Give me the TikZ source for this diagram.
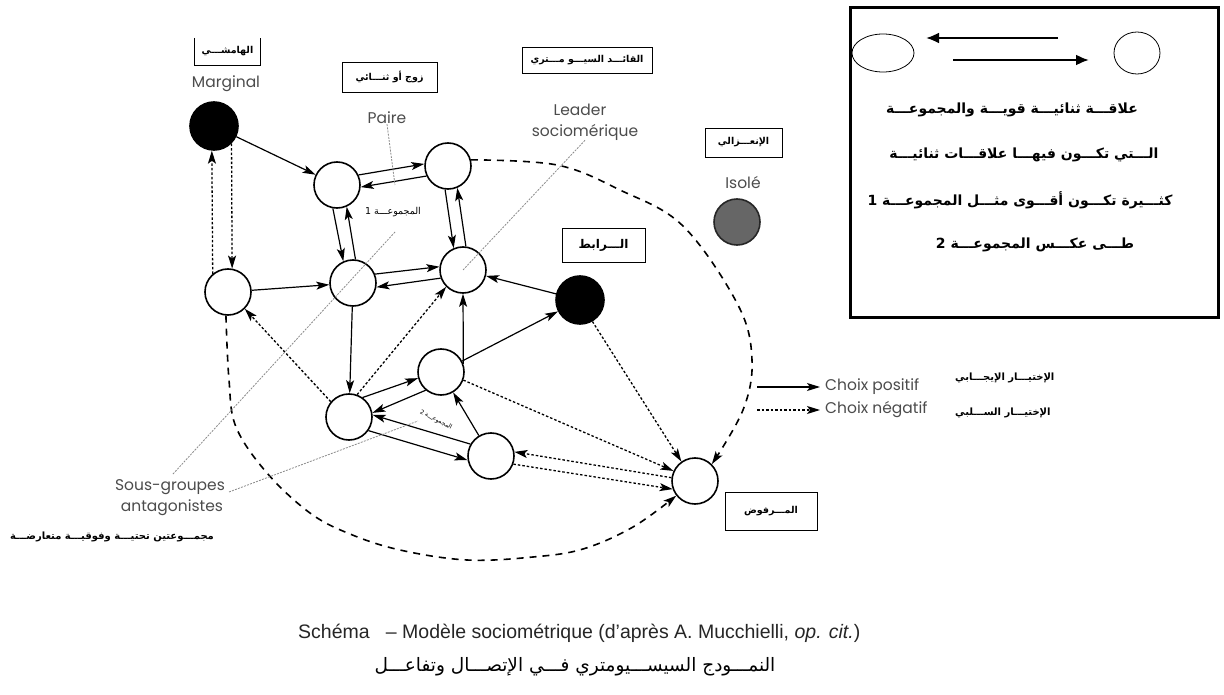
\documentclass[tikz,border=0pt]{standalone}
\usepackage{fontspec}
\setmainfont{Liberation Sans}
\newfontfamily\arabicfont[Script=Arabic]{DejaVu Sans}
\newfontfamily\geofont{Poppins}
\TeXXeTstate=1
\usetikzlibrary{arrows.meta,shapes.geometric}
\newcommand\artxt[1]{\arabicfont\beginR #1\endR}
\begin{document}
\begin{tikzpicture}[x=1pt,y=-1pt,
  person/.style={circle,draw=black,line width=1.6pt,minimum size=46pt,inner sep=0pt,fill=white},
  blackp/.style={person,fill=black,minimum size=48pt},
  isol/.style={person,fill=black!60,draw=black!85},
  poschoice/.style={line width=1.2pt,-{Stealth[length=13pt,width=8pt,inset=3pt]}},
  negchoice/.style={line width=1.3pt,dash pattern=on 2.5pt off 2pt,-{Stealth[length=13pt,width=8pt,inset=3pt]}},
  bigneg/.style={line width=1.6pt,dash pattern=on 7pt off 6pt,-{Stealth[length=13pt,width=8pt,inset=3pt]}},
  leadline/.style={black!45,line width=0.8pt,dash pattern=on 2pt off 1.2pt},
  arbox/.style={draw,line width=0.9pt,inner sep=0pt,font=\arabicfont\bfseries\fontsize{9.5}{11}\selectfont},
  lat/.style={font=\geofont\fontsize{15.5}{18}\selectfont,text=black!70,inner sep=0pt},
  arsmall/.style={font=\arabicfont\bfseries\fontsize{10}{12}\selectfont,inner sep=0pt},
  legtxt/.style={font=\arabicfont\bfseries\fontsize{14}{16}\selectfont,inner sep=0pt}
]
\useasboundingbox (0,0) rectangle (1224,695);
\fill[white] (0,0) rectangle (1224,695);

% persons
\node[blackp] (M) at (214,126) {};
\node[person] (A) at (337,185) {};
\node[person] (B) at (448,166) {};
\node[person] (C) at (228,292) {};
\node[person] (D) at (353,283) {};
\node[person] (E) at (463,270) {};
\node[blackp] (F) at (580,300) {};
\node[person] (G) at (441,372) {};
\node[person] (H) at (349,417) {};
\node[person] (I) at (491,456) {};
\node[person] (J) at (695,481) {};
\node[isol] (S) at (737,222) {};

% big dashed curves (negative choices to the rejected one)
\draw[bigneg] plot[smooth,tension=0.6] coordinates {(B.15) (557,165) (620,190) (683,226) (738,305) (752,360) (743,410) (J.45)};
\draw[bigneg] plot[smooth,tension=0.6] coordinates {(C.-95) (229,380) (236,427) (267,473) (310,513) (350,534) (400,550) (467,560) (533,557) (583,549) (633,527) (J.218)};

% positive choices
\draw[poschoice] (M) -- (A);
\draw[poschoice] (A.25) -- (B.175);
\draw[poschoice] (B.205) -- (A.355);
\draw[poschoice] (A.-100) -- (D.114);
\draw[poschoice] (D.84) -- (A.-66);
\draw[poschoice] (B.-97) -- (E.113);
\draw[poschoice] (E.83) -- (B.-67);
\draw[poschoice] (C) -- (D);
\draw[poschoice] (D.22) -- (E.172);
\draw[poschoice] (E.200) -- (D.350);
\draw[poschoice] (F) -- (E);
\draw[poschoice] (G) -- (F);
\draw[poschoice] (D) -- (H);
\draw[poschoice] (G.20) -- (E.south);
\draw[poschoice] (H.55) -- (G.195);
\draw[poschoice] (G.230) -- (H.10);
\draw[poschoice] (I.150) -- (H.5);
\draw[poschoice] (H.-35) -- (I.190);
\draw[poschoice] (I) -- (G);

% negative choices
\draw[negchoice] (H.70) -- (E.225);
\draw[negchoice] (H.140) -- (C.-45);
\draw[negchoice] (G.-20) -- (J.155);
\draw[negchoice] (F.-60) -- (J.125);
\draw[negchoice] (J.172) -- (I.10);
\draw[negchoice] (I.-20) -- (J.200);
\draw[negchoice] (C.130) -- (M.-95);
\draw[negchoice] (M.-45) -- (C.80);

% labels
\node[inner sep=0pt,minimum width=65pt,minimum height=27pt,font=\arabicfont\bfseries\fontsize{9.5}{11}\selectfont] (hb) at (227.5,51.5) {\artxt{الهامشـــي}};
\draw[line width=0.9pt] (hb.north west) -- (hb.south west) -- (hb.south east) -- (hb.north east);
\node[lat] (marg) at (226,84) {Marginal};
\node[arbox,minimum width=95pt,minimum height=30pt] (zb) at (389.5,77) {\artxt{زوج أو ثنـــائي}};
\node[lat] (paire) at (387,118) {Paire};
\node[arbox,minimum width=130pt,minimum height=26pt] (qb) at (587,60) {\artxt{القائـــد السيـــو مـــتري}};
\node[lat] (ld1) at (580,110) {Leader};
\node[lat] (ld2) at (585,132) {sociomérique};
\node[arbox,minimum width=77pt,minimum height=29pt] (ib) at (743.5,142.5) {\artxt{الإنعـــزالي}};
\node[lat] (iso) at (743,183) {Isolé};
\node[arbox,minimum width=83pt,minimum height=34pt,font=\arabicfont\bfseries\fontsize{12}{14}\selectfont] (rb) at (603.5,245) {\artxt{الـــرابط}};
\node[arbox,minimum width=92pt,minimum height=38pt] (mb) at (771,511) {\artxt{المـــرفوض}};
\node[inner sep=0pt,font=\arabicfont\fontsize{9.5}{11}\selectfont] (g1) at (393,212) {\artxt{المجموعـــة 1}};
\node[inner sep=0pt,font=\arabicfont\fontsize{6}{7}\selectfont,rotate=-27] (g2) at (436,420) {\artxt{المجموعـــة 2}};
\node[lat] (sg1) at (170,487) {Sous-groupes};
\node[lat] (sg2) at (172,508) {antagonistes};
\node[arsmall] (sga) at (112,537) {\artxt{مجمـــوعتين تحتيـــة وفوقيـــة متعارضـــة}};

% leader lines
\coordinate (pA) at (395,185);
\coordinate (gA) at (395,232);
\coordinate (gB) at (418,421);
\coordinate (sgA) at (173,474);
\coordinate (sgB) at (229,492);
\draw[leadline] (paire.south) -- (pA);
\draw[leadline] (ld2.south) -- (E.center);
\draw[leadline] (sgA) -- (gA);
\draw[leadline] (sgB) -- (gB);

% legend of choices
\coordinate (lp0) at (757,387); \coordinate (lp1) at (820,387);
\coordinate (ln0) at (757,410); \coordinate (ln1) at (820,410);
\draw[poschoice] (lp0) -- (lp1);
\draw[negchoice] (ln0) -- (ln1);
\node[lat,anchor=west] (cp) at (825,387) {Choix positif};
\node[lat,anchor=west] (cn) at (825,410) {Choix négatif};
\node[arsmall,anchor=west] (cpa) at (955,378) {\artxt{الإختيـــار الإيجـــابي}};
\node[arsmall,anchor=west] (cna) at (955,413) {\artxt{الإختيـــار الســـلبي}};

% legend box
\draw[line width=3pt] (850,8) rectangle (1218,317);
\node[ellipse,draw,line width=0.8pt,minimum width=62pt,minimum height=38pt,inner sep=0pt] (le) at (883,53) {};
\node[ellipse,draw,line width=0.8pt,minimum width=46pt,minimum height=42pt,inner sep=0pt] (re) at (1137,53) {};
\coordinate (t0) at (1058,38); \coordinate (t1) at (926,38);
\coordinate (b0) at (953,60); \coordinate (b1) at (1089,60);
\draw[line width=2.2pt,-{Latex[length=13pt,width=11pt]}] (t0) -- (t1);
\draw[line width=2.2pt,-{Latex[length=13pt,width=11pt]}] (b0) -- (b1);
\node[legtxt] (l1) at (1012,110) {\artxt{علاقـــة ثنائيـــة قويـــة والمجموعـــة}};
\node[legtxt] (l2) at (1024,155) {\artxt{الـــتي تكـــون فيهـــا علاقـــات ثنائيـــة}};
\node[legtxt] (l3) at (1020,200) {\artxt{كثـــيرة تكـــون أقـــوى مثـــل المجموعـــة 1}};
\node[legtxt] (l4) at (1035,245) {\artxt{طـــى عكـــس المجموعـــة 2}};

% captions
\node[anchor=west,inner sep=0pt,font=\fontsize{19.5}{22}\selectfont,text=black!85] (cap) at (298,633) {Schéma \ \ -- Modèle sociométrique (d'après A. Mucchielli, \textit{op. cit.})};
\node[inner sep=0pt,font=\arabicfont\fontsize{18.5}{21}\selectfont] (title) at (575,667) {\artxt{النمـــودج السيســـيومتري فـــي الإتصـــال وتفاعـــل}};
\end{tikzpicture}
\end{document}
